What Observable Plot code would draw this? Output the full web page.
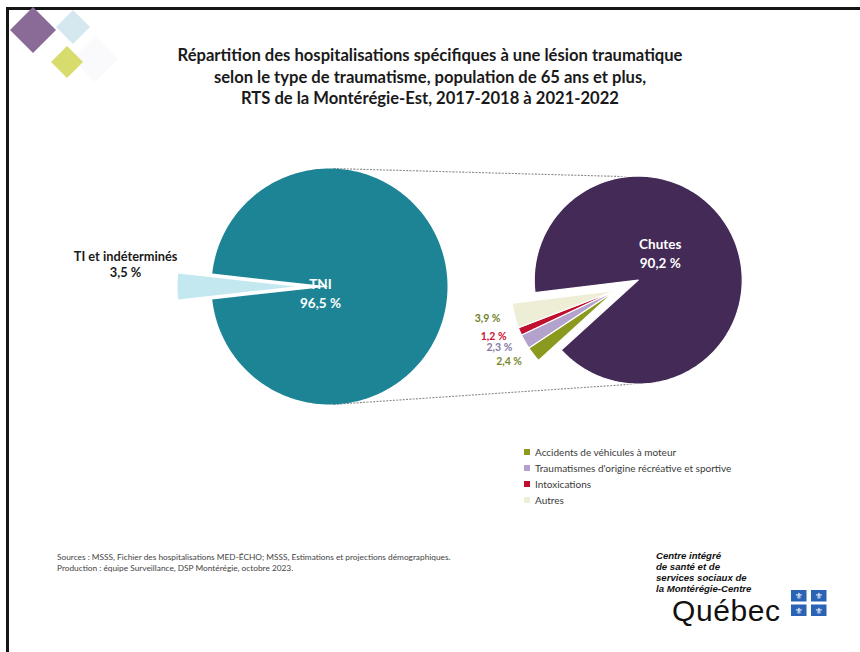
<!DOCTYPE html>
<html><head><meta charset="utf-8">
<script src="https://cdn.jsdelivr.net/npm/d3@7"></script>
<script src="https://cdn.jsdelivr.net/npm/@observablehq/plot@0.6"></script>
<style>
body{margin:0;background:#fff;}
#page{position:relative;width:860px;height:652px;overflow:hidden;background:#fff;font-family:Lato,"Open Sans",sans-serif;}
#frame{position:absolute;left:6px;top:7px;right:-10px;bottom:-10px;border-top:3px solid #151515;border-left:3px solid #151515;}
#logo{position:absolute;left:0;top:0;}
#title{position:absolute;left:0;width:860px;top:45px;text-align:center;font-weight:700;font-size:16.6px;line-height:21.5px;color:#1a1a1a;}
#chart{position:absolute;left:0;top:130px;}
#legend{position:absolute;left:524px;top:444px;font-size:10px;color:#3a3a3a;}
#legend .row{height:16px;line-height:16px;display:flex;align-items:center;}
#legend .sw{width:6px;height:6px;margin-right:5px;}
#sources{position:absolute;left:57px;top:552px;font-size:8.3px;line-height:11px;color:#444;}
#cisss{position:absolute;left:656px;top:550px;font-size:9.6px;line-height:11px;font-weight:700;font-style:italic;color:#111;font-family:"Liberation Sans",Arial,sans-serif;}
#quebec{position:absolute;left:672px;top:594px;font-family:"Liberation Sans",Arial,sans-serif;font-size:30px;line-height:34.5px;height:34.5px;color:#111;letter-spacing:0.6px;}
#flag{position:absolute;left:791px;top:590px;}
</style></head><body>
<div id="page">
  <div id="frame"></div>
  <svg id="logo" width="130" height="95">
    <polygon points="95,36 118,59 95,82 72,59" fill="#fafafc"/>
    <polygon points="73,10 90,27 73,44 56,27" fill="#d5e7ef"/>
    <polygon points="33,7 56,30 33,53 10,30" fill="#8a6b97"/>
    <polygon points="67,46 83,62 67,78 51,62" fill="#d8dc6c"/>
  </svg>
  <div id="title">Répartition des hospitalisations spécifiques à une lésion traumatique<br>selon le type de traumatisme, population de 65 ans et plus,<br>RTS de la Montérégie-Est, 2017-2018 à 2021-2022</div>
  <div id="chart"></div>
  <div id="legend"></div>
  <div id="sources">Sources : MSSS, Fichier des hospitalisations MED-ÉCHO; MSSS, Estimations et projections démographiques.<br>Production : équipe Surveillance, DSP Montérégie, octobre 2023.</div>
  <div id="cisss">Centre intégré<br>de santé et de<br>services sociaux de<br>la Montérégie-Centre</div>
  <div id="quebec">Québec</div>
  <svg id="flag" width="36" height="27">
    <rect x="0" y="0" width="15.5" height="11.5" fill="#2a63b5"/>
    <rect x="20" y="0" width="15.5" height="11.5" fill="#2a63b5"/>
    <rect x="0" y="14.5" width="15.5" height="11.5" fill="#2a63b5"/>
    <rect x="20" y="14.5" width="15.5" height="11.5" fill="#2a63b5"/>
    <g fill="#fff" font-size="9" text-anchor="middle" font-family="DejaVu Sans">
      <text x="7.75" y="9">⚜</text><text x="27.75" y="9">⚜</text>
      <text x="7.75" y="23.5">⚜</text><text x="27.75" y="23.5">⚜</text>
    </g>
  </svg>
</div>
<script>
// ---- data ----
const pie1Categories = ["TNI", "TI et indéterminés"];
const pie1Values = [96.5, 3.5];
const pie1Colors = ["#1d8496", "#c4e8ef"];

const pie2Categories = ["Chutes", "Accidents de véhicules à moteur", "Traumatismes d'origine récréative et sportive", "Intoxications", "Autres"];
const pie2Values = [90.2, 2.4, 2.3, 1.2, 3.9];
const pie2Colors = ["#432a57", "#8b9a1f", "#b3a2cb", "#c01030", "#eeeed6"];
const pie2LabelColors = ["#ffffff", "#77882a", "#857aa3", "#d0112e", "#6f7f2a"];

const legendCategories = ["Accidents de véhicules à moteur", "Traumatismes d'origine récréative et sportive", "Intoxications", "Autres"];

// ---- layout (page pixel coordinates) ----
const W = 860, TOP = 130, H = 400;
const fmt = v => v.toFixed(1).replace(".", ",") + " %";
const rad = a => a * Math.PI / 180;

function buildPie(cats, vals, opt) {
  const total = d3.sum(vals);
  let a = opt.start;
  return cats.map((c, i) => {
    const span = vals[i] / total * 360;
    const a0 = a, a1 = a - span; // clockwise
    a = a1;
    const mid = (a0 + a1) / 2;
    const ex = opt.explode[i] || 0;
    return {cat: c, value: vals[i], a0, a1, mid, r: opt.r,
      cx: opt.cx + ex * Math.cos(rad(mid)), cy: opt.cy - ex * Math.sin(rad(mid))};
  });
}
function polygon(s) {
  const pts = [{cat: s.cat, x: s.cx, y: s.cy}];
  const n = Math.max(4, Math.ceil(Math.abs(s.a0 - s.a1)));
  for (let k = 0; k <= n; k++) {
    const a = s.a0 + (s.a1 - s.a0) * k / n;
    pts.push({cat: s.cat, x: s.cx + s.r * Math.cos(rad(a)), y: s.cy - s.r * Math.sin(rad(a))});
  }
  return pts;
}

// Pie 1: small slice centred on the left (180°), large slice exploded toward the second pie
const pie1 = buildPie(pie1Categories, pie1Values, {
  cx: 295, cy: 286, r: 118,
  start: 180 - pie1Values[1] / d3.sum(pie1Values) * 360 / 2,
  explode: [34, 0]
});
// Pie 2: small slices grouped around 204.6°, main slice exploded
const smallShare = d3.sum(pie2Values.slice(1)) / d3.sum(pie2Values) * 360;
const pie2 = buildPie(pie2Categories, pie2Values, {
  cx: 615, cy: 290, r: 104,
  start: 204.6 - smallShare / 2,
  explode: [25, 0, 0, 0, 0]
});

const points1 = pie1.flatMap(polygon);
const points2 = pie2.flatMap(polygon);

const tni = pie1[0], chutes = pie2[0];
const onCircle = (s, a) => [s.cx + s.r * Math.cos(rad(a)), s.cy - s.r * Math.sin(rad(a))];
const connectors = [[88, 96], [-88, -92]].map(([a, b]) => {
  const [x1, y1] = onCircle(tni, a), [x2, y2] = onCircle(chutes, b);
  return {x1, y1, x2, y2};
});

// labels
const bigLabels = [
  {x: tni.cx, y: tni.cy, text: "TNI\n" + fmt(tni.value), dx: -9, dy: 6},
  {x: chutes.cx, y: chutes.cy, text: "Chutes\n" + fmt(chutes.value), dx: 22, dy: -28}
];
const ti = pie1[1];
const tiLabel = {x: ti.cx + 1.44 * ti.r * Math.cos(rad(ti.mid)), y: ti.cy - 1.44 * ti.r * Math.sin(rad(ti.mid)),
                 text: ti.cat + "\n" + fmt(ti.value)};
const smallLabels = pie2.slice(1).map((s, i) => ({
  x: s.cx + 1.14 * s.r * Math.cos(rad(s.mid)),
  y: s.cy - 1.12 * s.r * Math.sin(rad(s.mid)),
  text: fmt(s.value), color: pie2LabelColors[i + 1]
}));

const allCats = [...pie1Categories, ...pie2Categories];
const allColors = [...pie1Colors, ...pie2Colors];

const chart = Plot.plot({
  width: W, height: H,
  marginTop: 0, marginRight: 0, marginBottom: 0, marginLeft: 0,
  x: {domain: [0, W], range: [0, W], axis: null},
  y: {domain: [TOP, TOP + H], range: [0, H], axis: null},
  color: {domain: allCats, range: allColors},
  style: {fontFamily: "Lato, 'Open Sans', sans-serif", background: "transparent"},
  marks: [
    Plot.link(connectors, {x1: "x1", y1: "y1", x2: "x2", y2: "y2", stroke: "#8a8a8a", strokeWidth: 1.1, strokeDasharray: "2,1.3"}),
    Plot.line(points1, {x: "x", y: "y", z: "cat", fill: "cat", stroke: "none", curve: "linear-closed"}),
    Plot.line(points2, {x: "x", y: "y", z: "cat", fill: "cat", stroke: "#ffffff", strokeWidth: 1.2, curve: "linear-closed"}),
    ...bigLabels.map(l => Plot.text([l], {x: "x", y: "y", text: "text", dx: l.dx, dy: l.dy, fill: "#ffffff", fontSize: 13.5, fontWeight: 700, lineHeight: 1.4})),
    Plot.text([tiLabel], {x: "x", y: "y", text: "text", dy: -23, fill: "#1a1a1a", fontSize: 12.8, fontWeight: 700, lineHeight: 1.25}),
    ...smallLabels.map(l => Plot.text([l], {x: "x", y: "y", text: "text", textAnchor: "end", fill: l.color, fontSize: 10.5, fontWeight: 700}))
  ]
});
document.getElementById("chart").append(chart);

// legend
const leg = document.getElementById("legend");
legendCategories.forEach(c => {
  const row = document.createElement("div"); row.className = "row";
  const sw = document.createElement("span"); sw.className = "sw";
  sw.style.background = allColors[allCats.indexOf(c)];
  const t = document.createElement("span"); t.textContent = c;
  row.append(sw, t); leg.append(row);
});
</script>
</body></html>
